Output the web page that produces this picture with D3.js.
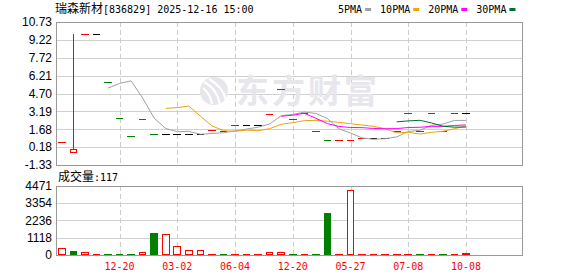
<!DOCTYPE html>
<html>
<head>
<meta charset="utf-8">
<script src="https://cdn.jsdelivr.net/npm/d3@7"></script>
<style>
body { margin: 0; background: #fff; }
svg { display: block; }
.cjk { font-family: "Noto Sans CJK SC", sans-serif; font-size: 12px; }
.mono { font-family: "DejaVu Sans Mono", monospace; font-size: 10px; }
.axis { font-family: "Liberation Sans", Arial, sans-serif; font-size: 12px; }
</style>
</head>
<body>
<script>
//////////////////
// K-line chart //
//////////////////

var stockName = "瑞森新材";
var header = "[836829] 2025-12-16 15:00";
var volLabel = "成交量";
var lastVolume = "117";

// daily bars (前复权), one entry per candle
var opens  = [0.61, -0.25, 9.75, 9.75, 5.64, 2.60, 1.09, 2.52, 1.26, 1.26, 1.26, 1.26, 1.26, 1.59, 1.57, 2.04, 2.04, 2.04,
              2.97, 5.05, 2.54, 3.04, 1.51, 0.75, 0.76, 0.77, 0.97, 0.97, 0.97, 1.51, 3.04, 1.51, 3.04, 1.51, 3.04, 3.04];
var highs  = [0.61, 9.75, 9.75, 9.75, 5.64, 2.60, 1.09, 2.52, 1.26, 1.26, 1.26, 1.26, 1.26, 1.59, 1.57, 2.04, 2.04, 2.04,
              2.97, 5.05, 2.54, 3.04, 1.51, 0.75, 0.76, 0.77, 0.97, 0.97, 0.97, 1.51, 3.04, 1.51, 3.04, 1.51, 3.04, 3.04];
var lows   = [0.61, -0.25, 9.75, 9.75, 5.64, 2.60, 1.09, 2.52, 1.26, 1.26, 1.26, 1.26, 1.26, 1.59, 1.57, 2.04, 2.04, 2.04,
              2.97, 5.05, 2.54, 3.04, 1.51, 0.75, 0.76, 0.77, 0.97, 0.97, 0.97, 1.51, 3.04, 1.51, 3.04, 1.51, 3.04, 3.04];
var closes = [0.61, 0.00, 9.75, 9.75, 5.64, 2.60, 1.09, 2.52, 1.26, 1.26, 1.26, 1.26, 1.26, 1.59, 1.57, 2.04, 2.04, 2.04,
              2.97, 5.05, 2.54, 3.04, 1.51, 0.75, 0.76, 0.77, 0.97, 0.97, 0.97, 1.51, 3.04, 1.51, 3.04, 1.51, 3.04, 3.04];
var prevClose = 0.55; // close before the first bar
var volumes = [390, 240, 155, 50, 40, 40, 40, 130, 1400, 1320, 540, 285, 285, 40, 40, 40, 40, 40,
               155, 155, 40, 40, 40, 2720, 40, 4150, 50, 50, 50, 50, 50, 50, 50, 50, 50, 117];

// moving averages as shown on the chart
var ma5  = [null, null, null, null, 5.15, 5.55, 5.77, 4.32, 2.62, 1.75, 1.48, 1.51, 1.26, 1.33, 1.39, 1.54, 1.70, 1.86,
            2.13, 2.83, 2.93, 3.13, 3.02, 2.58, 1.72, 1.37, 0.95, 0.84, 0.89, 1.04, 1.49, 1.60, 2.01, 2.12, 2.43, 2.43];
var ma10 = [null, null, null, null, null, null, null, null, null, 3.45, 3.51, 3.64, 2.79, 1.97, 1.57, 1.51, 1.61, 1.56,
            1.73, 2.11, 2.24, 2.41, 2.44, 2.36, 2.27, 2.15, 2.04, 1.93, 1.73, 1.38, 1.43, 1.28, 1.43, 1.51, 1.73, 1.96];
var ma20 = [null, null, null, null, null, null, null, null, null, null, null, null, null, null, null, null, null, null,
            null, 2.78, 2.87, 3.03, 2.61, 2.16, 1.92, 1.83, 1.82, 1.75, 1.73, 1.74, 1.83, 1.85, 1.93, 1.93, 2.00, 2.05];
var ma30 = [null, null, null, null, null, null, null, null, null, null, null, null, null, null, null, null, null, null,
            null, null, null, null, null, null, null, null, null, null, null, 2.31, 2.39, 2.44, 2.22, 1.94, 1.86, 1.87];
var maNames  = ["5PMA", "10PMA", "20PMA", "30PMA"];
var maColors = ["#a0a0a0", "#f0a30a", "#ff00ff", "#00702f"];

// axes
var priceTicks = [10.73, 9.22, 7.72, 6.21, 4.70, 3.19, 1.68, 0.18, -1.33];
var volTicks   = [0, 1118, 2236, 3354, 4471];
var dateLabels = ["12-20", "03-02", "06-04", "12-20", "05-27", "07-08", "10-08"];
var dateIndex  = [5, 10, 15, 20, 25, 30, 35];

// layout
var W = 578, H = 276;
var left = 56, right = 522;
var priceTop = 22, priceBottom = 165;
var volTop = 186, volBottom = 255;
var SLOTS = 40;
var RED = "#ff0000", GREEN = "#008000";

var crisp = function(v) { return Math.round(v) + 0.5; };

var svg = d3.select("body").append("svg")
    .attr("width", W)
    .attr("height", H);

var x = d3.scaleBand().domain(d3.range(SLOTS)).range([left, 518]);
var cx = function(i) { return x(i) + x.bandwidth() / 2; };
var bw = 7.6;

var y = d3.scaleLinear().domain([-1.33, 10.73]).range([priceBottom, priceTop]);
var yv = d3.scaleLinear().domain([0, 4471]).range([volBottom, volTop]);

// Draw grid
var grid = svg.append("g").attr("shape-rendering", "crispEdges");
grid.selectAll(".hp").data(priceTicks.slice(1, -1)).enter().append("line")
    .attr("x1", left).attr("x2", right)
    .attr("y1", function(d) { return crisp(y(d)); })
    .attr("y2", function(d) { return crisp(y(d)); })
    .style("stroke", "#d0d0d0");
grid.selectAll(".hv").data(volTicks.slice(1, -1)).enter().append("line")
    .attr("x1", left).attr("x2", right)
    .attr("y1", function(d) { return crisp(yv(d)); })
    .attr("y2", function(d) { return crisp(yv(d)); })
    .style("stroke", "#d0d0d0");
[[priceTop, priceBottom], [volTop, volBottom]].forEach(function(p) {
    grid.selectAll(null).data(dateIndex).enter().append("line")
        .attr("x1", function(d) { return crisp(cx(d)); })
        .attr("x2", function(d) { return crisp(cx(d)); })
        .attr("y1", p[0]).attr("y2", p[1])
        .style("stroke", "#cccccc")
        .style("stroke-dasharray", "5,3");
});

// Watermark
var wm = svg.append("g").style("fill", "#e6e6eb");
wm.append("circle").attr("cx", 214).attr("cy", 91).attr("r", 14);
wm.append("path")
    .attr("d", "M204,82 C212,86 218,94 220,104 M209,79 C218,84 224,92 226,100 M203,88 C208,92 211,98 212,104")
    .style("fill", "none").style("stroke", "#fff").style("stroke-width", 2.2);
wm.append("text")
    .attr("x", 236).attr("y", 103)
    .style("font-family", "Noto Sans CJK SC")
    .style("font-size", "33px")
    .style("font-weight", "bold")
    .style("letter-spacing", "3px")
    .text("东方财富");

// Borders
svg.append("rect").attr("x", left + 0.5).attr("y", priceTop + 0.5)
    .attr("width", right - left).attr("height", priceBottom - priceTop)
    .style("fill", "none").style("stroke", "#999").attr("shape-rendering", "crispEdges");
svg.append("rect").attr("x", left + 0.5).attr("y", volTop + 0.5)
    .attr("width", right - left).attr("height", volBottom - volTop)
    .style("fill", "none").style("stroke", "#999").attr("shape-rendering", "crispEdges");

// Candles
var trend = function(i) {
    var prev = i === 0 ? prevClose : closes[i - 1];
    if (closes[i] > opens[i]) return "up";
    if (closes[i] < opens[i]) return "down";
    return closes[i] > prev ? "up" : (closes[i] < prev ? "down" : "flat");
};
var trendColor = { up: RED, down: GREEN, flat: "#000" };

var candles = svg.append("g").attr("shape-rendering", "crispEdges");
d3.range(closes.length).forEach(function(i) {
    var col = trendColor[trend(i)];
    var c = cx(i);
    var top = Math.max(opens[i], closes[i]), bot = Math.min(opens[i], closes[i]);
    if (highs[i] > top || lows[i] < bot) {
        candles.append("line")
            .attr("x1", crisp(c)).attr("x2", crisp(c))
            .attr("y1", y(highs[i])).attr("y2", y(lows[i]))
            .style("stroke", col);
    }
    if (top === bot) {
        candles.append("line")
            .attr("x1", c - bw / 2).attr("x2", c + bw / 2)
            .attr("y1", crisp(y(top))).attr("y2", crisp(y(top)))
            .style("stroke", col);
    } else {
        candles.append("rect")
            .attr("x", c - bw / 2 + 0.5).attr("y", y(top))
            .attr("width", bw - 1).attr("height", y(bot) - y(top))
            .style("fill", trend(i) === "up" ? "#fff" : col)
            .style("stroke", col);
    }
});

// MA lines
var maLine = d3.line()
    .defined(function(d) { return d !== null; })
    .x(function(d, i) { return cx(i); })
    .y(function(d) { return y(d); });
[ma5, ma10, ma20, ma30].forEach(function(series, k) {
    svg.append("path")
        .attr("d", maLine(series))
        .style("fill", "none")
        .style("stroke", maColors[k])
        .style("stroke-width", 1);
});

// Volume bars
var bars = svg.append("g").attr("shape-rendering", "crispEdges");
volumes.forEach(function(v, i) {
    var prev = i === 0 ? prevClose : closes[i - 1];
    var up = closes[i] >= prev;
    var c = cx(i);
    if (up) {
        bars.append("rect")
            .attr("x", c - bw / 2 + 0.5).attr("y", yv(v))
            .attr("width", bw - 1).attr("height", Math.max(volBottom - yv(v) - 0.5, 0.5))
            .style("fill", "#fff").style("stroke", RED);
    } else {
        bars.append("rect")
            .attr("x", c - bw / 2).attr("y", yv(v))
            .attr("width", bw).attr("height", Math.max(volBottom - yv(v), 1))
            .style("fill", GREEN);
    }
});

// Axis labels
svg.selectAll(".py").data(priceTicks).enter().append("text")
    .attr("class", "axis")
    .attr("x", 52).attr("y", function(d) { return y(d); })
    .attr("dy", "0.35em")
    .attr("text-anchor", "end")
    .text(function(d) { return d.toFixed(2); });
svg.selectAll(".vy").data(volTicks).enter().append("text")
    .attr("class", "axis")
    .attr("x", 52).attr("y", function(d) { return yv(d); })
    .attr("dy", "0.35em")
    .attr("text-anchor", "end")
    .text(function(d) { return d; });
svg.selectAll(".dx").data(dateLabels).enter().append("text")
    .attr("class", "mono")
    .attr("x", function(d, k) { return cx(dateIndex[k]); })
    .attr("y", 270)
    .attr("text-anchor", "middle")
    .style("fill", RED)
    .text(function(d) { return d; });

// Title
var title = svg.append("text").attr("x", 55).attr("y", 13);
title.append("tspan").attr("class", "cjk").text(stockName);
title.append("tspan").attr("class", "mono").text(header);

var vt = svg.append("text").attr("x", 58).attr("y", 181);
vt.append("tspan").attr("class", "cjk").text(volLabel);
vt.append("tspan").attr("class", "mono").text(":" + lastVolume);

// Legend
var lx = 338;
maNames.forEach(function(name, k) {
    var t = svg.append("text").attr("class", "mono").attr("x", lx).attr("y", 13).text(name);
    var w = t.node().getComputedTextLength();
    svg.append("rect")
        .attr("x", lx + w + 3).attr("y", 8)
        .attr("width", 6).attr("height", 3)
        .style("fill", maColors[k]);
    lx += w + 3 + 6 + 9;
});
</script>
</body>
</html>
